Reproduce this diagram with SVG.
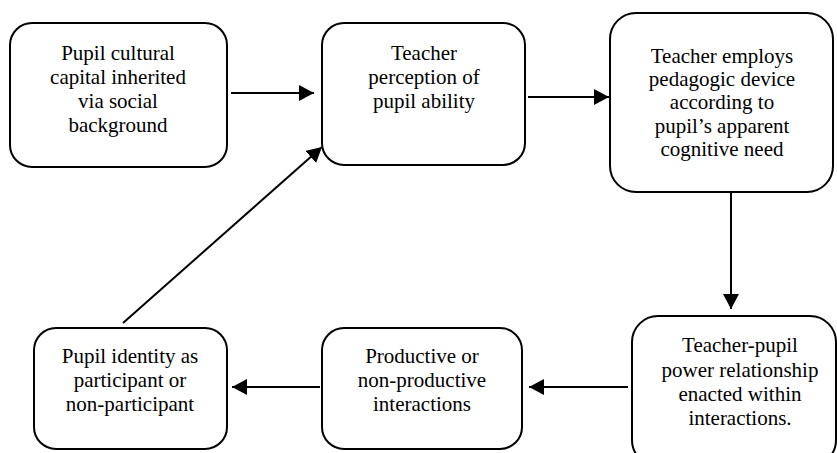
<svg xmlns="http://www.w3.org/2000/svg" width="837" height="453" viewBox="0 0 837 453">
<style>
.box{fill:#fff;stroke:#000;stroke-width:2}
.lbl{font-family:'Liberation Serif', 'DejaVu Serif', serif;font-size:21px;fill:#000;text-anchor:middle}
.conn{stroke:#000;stroke-width:2;fill:none;marker-end:url(#ah)}
</style>
<defs>
<marker id="ah" markerUnits="userSpaceOnUse" markerWidth="16" markerHeight="16" refX="15" refY="8" orient="auto">
<path d="M0,0 L15,8 L0,16 z" fill="#000"/>
</marker>
</defs>
<rect width="837" height="453" fill="#fff"/>
<g id="connectors">
<line class="conn" x1="231" y1="93" x2="314" y2="93"/>
<line class="conn" x1="528" y1="97" x2="609" y2="97"/>
<line class="conn" x1="731" y1="192" x2="731" y2="309"/>
<line class="conn" x1="628" y1="387" x2="529" y2="387"/>
<line class="conn" x1="320" y1="387" x2="232" y2="387"/>
<line class="conn" x1="123" y1="323" x2="322" y2="147"/>
</g>
<g id="n1">
<rect class="box" x="10" y="23" width="217" height="144" rx="22" ry="22"/>
<text class="lbl" font-family="Liberation Serif, serif" x="118" y="60">Pupil cultural</text>
<text class="lbl" font-family="Liberation Serif, serif" x="118" y="84">capital inherited</text>
<text class="lbl" font-family="Liberation Serif, serif" x="118" y="108">via social</text>
<text class="lbl" font-family="Liberation Serif, serif" x="118" y="132">background</text>
</g>
<g id="n2">
<rect class="box" x="322" y="23" width="203" height="142" rx="22" ry="22"/>
<text class="lbl" x="424" y="60">Teacher</text>
<text class="lbl" x="424" y="84">perception of</text>
<text class="lbl" x="424" y="108">pupil ability</text>
</g>
<g id="n3">
<rect class="box" x="610" y="13" width="223" height="179" rx="26" ry="26"/>
<text class="lbl" x="722" y="63">Teacher employs</text>
<text class="lbl" x="722" y="86">pedagogic device</text>
<text class="lbl" x="722" y="109">according to</text>
<text class="lbl" x="722" y="133">pupil’s apparent</text>
<text class="lbl" x="722" y="156">cognitive need</text>
</g>
<g id="n4">
<rect class="box" x="632" y="316" width="204" height="150" rx="26" ry="26"/>
<text class="lbl" x="740" y="352">Teacher-pupil</text>
<text class="lbl" x="740" y="377">power relationship</text>
<text class="lbl" x="740" y="401">enacted within</text>
<text class="lbl" x="740" y="425">interactions.</text>
</g>
<g id="n5">
<rect class="box" x="322" y="328" width="200" height="121" rx="22" ry="22"/>
<text class="lbl" x="422" y="363">Productive or</text>
<text class="lbl" x="422" y="387">non-productive</text>
<text class="lbl" x="422" y="411">interactions</text>
</g>
<g id="n6">
<rect class="box" x="34" y="328" width="193" height="121" rx="22" ry="22"/>
<text class="lbl" x="130" y="363">Pupil identity as</text>
<text class="lbl" x="130" y="387">participant or</text>
<text class="lbl" x="130" y="411">non-participant</text>
</g>
</svg>
